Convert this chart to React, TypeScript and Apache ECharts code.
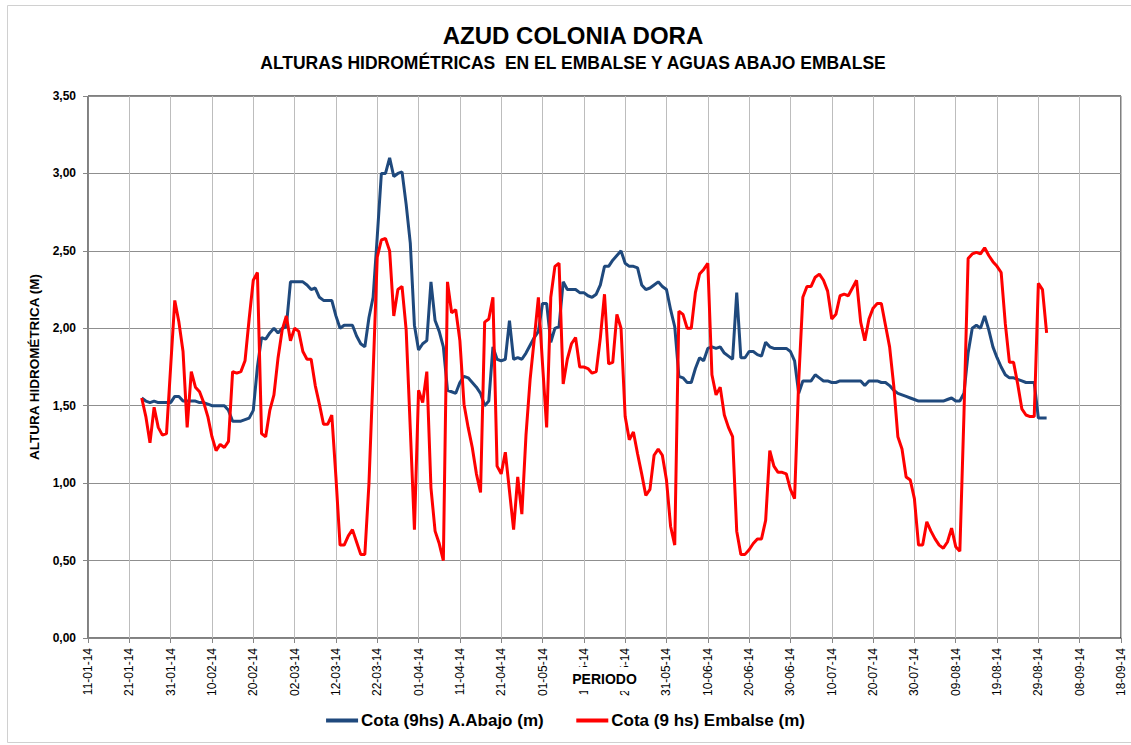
import React, { useEffect, useRef } from "react";
import * as echarts from "echarts";

// x axis: days counted from 11-01-14 (0) to 18-09-14 (250), ticks every 10 days
const AXIS_START = Date.UTC(2014, 0, 11);
const AXIS_DAYS = 250;
const TICK_DAYS = 10;
// both series are daily readings starting on 24-01-14 (day 13)
const FIRST_DAY = 13;

const TITLE = "AZUD COLONIA DORA";
const SUBTITLE = "ALTURAS HIDROMÉTRICAS  EN EL EMBALSE Y AGUAS ABAJO EMBALSE";
const X_NAME = "PERIODO";
const Y_NAME = "ALTURA HIDROMÉTRICA (M)";
const SERIES_NAMES = ["Cota (9hs) A.Abajo (m)", "Cota (9 hs) Embalse (m)"];

// Cota (9hs) A.Abajo (m), daily from 24-01-14
const abajo = [
  1.55, 1.53, 1.52, 1.53, 1.52, 1.52, 1.52, 1.52, 1.56, 1.56,
  1.53, 1.53, 1.53, 1.53, 1.52, 1.52, 1.51, 1.50, 1.50, 1.50,
  1.50, 1.47, 1.40, 1.40, 1.40, 1.41, 1.42, 1.47, 1.75, 1.94,
  1.93, 1.97, 2.00, 1.97, 2.00, 2.01, 2.30, 2.30, 2.30, 2.30,
  2.28, 2.25, 2.26, 2.20, 2.18, 2.18, 2.18, 2.08, 2.00, 2.02,
  2.02, 2.02, 1.95, 1.90, 1.88, 2.07, 2.20, 2.59, 3.00, 3.00,
  3.10, 2.98, 3.00, 3.01, 2.80, 2.55, 2.02, 1.86, 1.90, 1.92,
  2.30, 2.05, 1.98, 1.88, 1.60, 1.59, 1.58, 1.65, 1.69, 1.68,
  1.65, 1.62, 1.58, 1.50, 1.53, 1.88, 1.80, 1.79, 1.80, 2.05,
  1.80, 1.81, 1.80, 1.84, 1.89, 1.94, 1.98, 2.16, 2.16, 1.91,
  2.00, 2.01, 2.30, 2.25, 2.25, 2.25, 2.23, 2.23, 2.21, 2.20,
  2.22, 2.28, 2.40, 2.40, 2.44, 2.47, 2.50, 2.42, 2.40, 2.40,
  2.39, 2.28, 2.25, 2.26, 2.28, 2.30, 2.27, 2.25, 2.12, 2.01,
  1.69, 1.68, 1.65, 1.65, 1.74, 1.81, 1.79, 1.87, 1.88, 1.87,
  1.88, 1.84, 1.82, 1.80, 2.23, 1.81, 1.81, 1.85, 1.85, 1.83,
  1.82, 1.91, 1.88, 1.87, 1.87, 1.87, 1.87, 1.85, 1.79, 1.58,
  1.66, 1.66, 1.66, 1.70, 1.68, 1.66, 1.66, 1.65, 1.65, 1.66,
  1.66, 1.66, 1.66, 1.66, 1.66, 1.63, 1.66, 1.66, 1.66, 1.65,
  1.65, 1.63, 1.60, 1.58, 1.57, 1.56, 1.55, 1.54, 1.53, 1.53,
  1.53, 1.53, 1.53, 1.53, 1.53, 1.54, 1.55, 1.53, 1.53, 1.58,
  1.84, 2.00, 2.02, 2.00, 2.08, 1.99, 1.88, 1.81, 1.75, 1.70,
  1.68, 1.68, 1.67, 1.66, 1.65, 1.65, 1.65, 1.42, 1.42, 1.42,
];

// Cota (9 hs) Embalse (m), daily from 24-01-14
const embalse = [
  1.55, 1.43, 1.26, 1.49, 1.36, 1.31, 1.32, 1.75, 2.18, 2.04,
  1.85, 1.36, 1.72, 1.62, 1.59, 1.52, 1.43, 1.30, 1.21, 1.25,
  1.23, 1.27, 1.72, 1.71, 1.72, 1.79, 2.06, 2.31, 2.36, 1.32,
  1.30, 1.47, 1.57, 1.81, 1.99, 2.08, 1.92, 2.00, 1.98, 1.85,
  1.80, 1.80, 1.63, 1.51, 1.38, 1.38, 1.44, 1.04, 0.60, 0.60,
  0.66, 0.70, 0.62, 0.54, 0.54, 1.00, 1.71, 2.46, 2.57, 2.58,
  2.50, 2.08, 2.25, 2.27, 1.99, 1.35, 0.70, 1.60, 1.52, 1.72,
  0.97, 0.69, 0.61, 0.50, 2.30, 2.10, 2.12, 1.92, 1.51, 1.36,
  1.23, 1.06, 0.94, 2.04, 2.06, 2.20, 1.11, 1.06, 1.20, 0.95,
  0.70, 1.04, 0.80, 1.31, 1.67, 1.93, 2.20, 1.77, 1.36, 2.20,
  2.40, 2.42, 1.64, 1.80, 1.90, 1.94, 1.75, 1.75, 1.74, 1.71,
  1.72, 1.94, 2.22, 1.77, 1.78, 2.09, 2.00, 1.43, 1.28, 1.33,
  1.19, 1.06, 0.92, 0.96, 1.18, 1.22, 1.18, 1.02, 0.72, 0.60,
  2.11, 2.09, 2.00, 2.00, 2.23, 2.35, 2.38, 2.42, 1.70, 1.57,
  1.62, 1.44, 1.36, 1.30, 0.69, 0.54, 0.54, 0.57, 0.61, 0.64,
  0.64, 0.76, 1.21, 1.11, 1.07, 1.07, 1.06, 0.96, 0.90, 1.66,
  2.20, 2.27, 2.27, 2.33, 2.35, 2.31, 2.24, 2.06, 2.09, 2.21,
  2.22, 2.21, 2.26, 2.31, 2.04, 1.92, 2.06, 2.13, 2.16, 2.16,
  2.02, 1.88, 1.63, 1.30, 1.22, 1.04, 1.02, 0.90, 0.60, 0.60,
  0.75, 0.69, 0.64, 0.60, 0.58, 0.62, 0.71, 0.59, 0.56, 1.45,
  2.45, 2.48, 2.49, 2.48, 2.52, 2.47, 2.43, 2.40, 2.36, 2.03,
  1.78, 1.78, 1.64, 1.48, 1.44, 1.43, 1.43, 2.29, 2.25, 1.97,
];

const COLORS = ["#1F497D", "#FF0000"];
const FONT = "'Liberation Sans', Arial, sans-serif";

function dayLabel(v: number): string {
  const d = new Date(AXIS_START + v * 86400000);
  const dd = String(d.getUTCDate()).padStart(2, "0");
  const mm = String(d.getUTCMonth() + 1).padStart(2, "0");
  const yy = String(d.getUTCFullYear()).slice(2);
  return `${dd}-${mm}-${yy}`;
}

const toPairs = (arr: number[]) => arr.map((v, i) => [FIRST_DAY + i, v]);

export default function App() {
  const ref = useRef<HTMLDivElement>(null);
  useEffect(() => {
    if (!ref.current) return;
    const chart = echarts.init(ref.current, undefined, { renderer: "svg" });
    chart.setOption({
      animation: false,
      backgroundColor: "#ffffff",
      textStyle: { fontFamily: FONT },
      graphic: [
        {
          type: "rect",
          shape: { x: 7.5, y: 5.5, width: 1140, height: 737 },
          style: { fill: "none", stroke: "#d0d0d0", lineWidth: 1 },
          silent: true,
        },
        {
          type: "text",
          x: 573,
          y: 35,
          style: {
            text: TITLE,
            fontSize: 24,
            fontWeight: "bold",
            fontFamily: FONT,
            fill: "#000",
            align: "center",
            verticalAlign: "middle",
          },
        },
        {
          type: "text",
          x: 573,
          y: 63,
          style: {
            text: SUBTITLE,
            fontSize: 17.5,
            fontWeight: "bold",
            fontFamily: FONT,
            fill: "#000",
            align: "center",
            verticalAlign: "middle",
          },
        },
        {
          type: "text",
          x: 604.5,
          y: 679,
          z: 100,
          style: {
            text: X_NAME,
            fontSize: 14,
            fontWeight: "bold",
            fontFamily: FONT,
            fill: "#000",
            align: "center",
            verticalAlign: "middle",
            backgroundColor: "#ffffff",
            padding: [7, 4, 3, 4],
          },
        },
      ],
      grid: {
        left: 88,
        right: 10,
        top: 96,
        bottom: 107,
        show: true,
        borderColor: "#000",
        borderWidth: 1,
        backgroundColor: "transparent",
      },
      legend: {
        left: "center",
        top: 707,
        icon: "rect",
        itemWidth: 32,
        itemHeight: 4,
        itemGap: 32,
        textStyle: { fontSize: 17, fontWeight: "bold", color: "#000", fontFamily: FONT, padding: [0, 0, 0, -2] },
        data: SERIES_NAMES,
      },
      xAxis: {
        type: "value",
        min: 0,
        max: AXIS_DAYS,
        interval: TICK_DAYS,
        axisLine: { show: true, onZero: false, lineStyle: { color: "#868686", width: 1 } },
        axisTick: { show: true, length: 5, inside: false, lineStyle: { color: "#868686" } },
        axisLabel: {
          rotate: 90,
          fontSize: 12,
          color: "#000",
          margin: 10,
          formatter: (v: number) => dayLabel(v),
        },
        splitLine: { show: true, lineStyle: { color: "#bdbdbd", width: 1 } },
      },
      yAxis: {
        type: "value",
        min: 0,
        max: 3.5,
        interval: 0.5,
        name: Y_NAME,
        nameLocation: "middle",
        nameGap: 40,
        nameTextStyle: { fontSize: 13.5, fontWeight: "bold", color: "#000", fontFamily: FONT },
        axisLine: { show: true, lineStyle: { color: "#868686", width: 1 } },
        axisTick: { show: true, length: 5, inside: false, lineStyle: { color: "#868686" } },
        axisLabel: {
          fontSize: 12,
          fontWeight: "bold",
          color: "#000",
          margin: 12,
          formatter: (v: number) => v.toFixed(2).replace(".", ","),
        },
        splitLine: { show: true, lineStyle: { color: "#8f8f8f", width: 1 } },
      },
      series: [
        {
          name: SERIES_NAMES[0],
          type: "line",
          data: toPairs(abajo),
          symbol: "none",
          lineStyle: { color: COLORS[0], width: 3 },
          itemStyle: { color: COLORS[0] },
          z: 2,
        },
        {
          name: SERIES_NAMES[1],
          type: "line",
          data: toPairs(embalse),
          symbol: "none",
          lineStyle: { color: COLORS[1], width: 3 },
          itemStyle: { color: COLORS[1] },
          z: 3,
        },
      ],
    });
    return () => chart.dispose();
  }, []);
  return (
    <div
      ref={ref}
      style={{ position: "absolute", left: 0, top: 0, width: 1131, height: 745 }}
    />
  );
}
